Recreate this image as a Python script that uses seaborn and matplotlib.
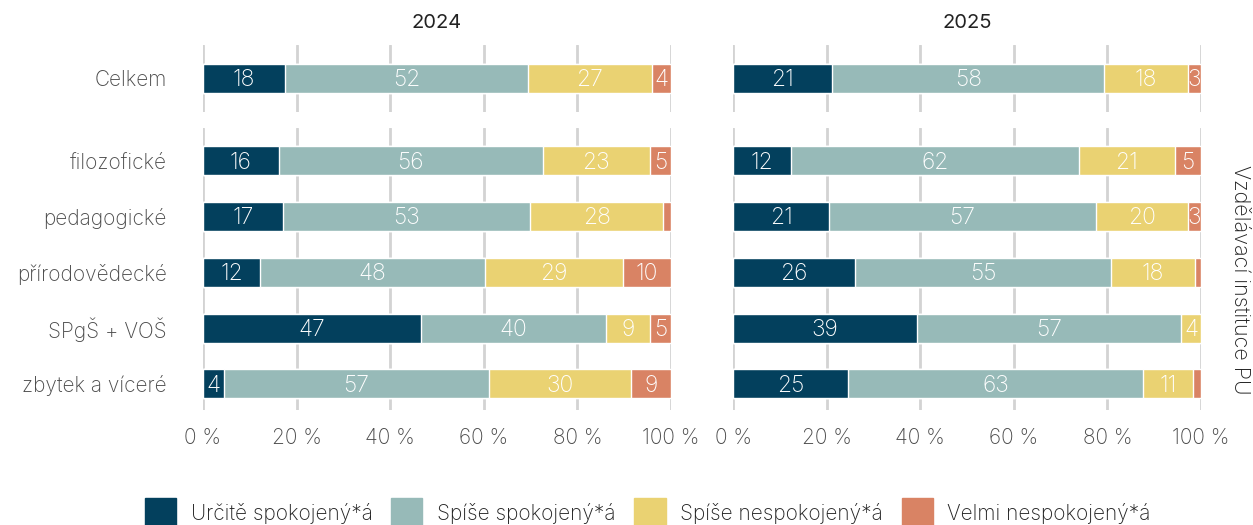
import numpy as np
import pandas as pd
import matplotlib.pyplot as plt
import seaborn as sns

# ── Data ────────────────────────────────────────────────────────────────────
years = ["2024", "2025"]
categories = ["Určitě spokojený*á", "Spíše spokojený*á",
              "Spíše nespokojený*á", "Velmi nespokojený*á"]
total_label = ["Celkem"]
groups = ["filozofické", "pedagogické", "přírodovědecké", "SPgŠ + VOŠ", "zbytek a víceré"]

# shares per category (%), order: total, then groups
urcite_2024 = [17.5, 16.2, 17.1, 12.2, 46.6, 4.5]
spise_sp_2024 = [51.9, 56.4, 52.8, 48.1, 39.5, 56.6]
spise_ne_2024 = [26.5, 22.9, 28.4, 29.4, 9.4, 30.4]
velmi_ne_2024 = [4.1, 4.5, 1.7, 10.3, 4.5, 8.5]

urcite_2025 = [21.2, 12.4, 20.5, 26.1, 39.3, 24.6]
spise_sp_2025 = [58.1, 61.5, 57.1, 54.6, 56.4, 63.0]
spise_ne_2025 = [17.9, 20.5, 19.6, 18.0, 4.3, 10.7]
velmi_ne_2025 = [2.8, 5.6, 2.8, 1.3, 0.0, 1.7]

# labels as printed in the chart (rounded, empty = not shown)
labels_2024 = [["18", "16", "17", "12", "47", "4"],
               ["52", "56", "53", "48", "40", "57"],
               ["27", "23", "28", "29", "9", "30"],
               ["4", "5", "", "10", "5", "9"]]
labels_2025 = [["21", "12", "21", "26", "39", "25"],
               ["58", "62", "57", "55", "57", "63"],
               ["18", "21", "20", "18", "4", "11"],
               ["3", "5", "3", "", "", ""]]

colors = ["#03405d", "#97bab8", "#ead272", "#d98364"]
x_ticks = [0, 20, 40, 60, 80, 100]

data = {
    "2024": [urcite_2024, spise_sp_2024, spise_ne_2024, velmi_ne_2024],
    "2025": [urcite_2025, spise_sp_2025, spise_ne_2025, velmi_ne_2025],
}
labels = {"2024": labels_2024, "2025": labels_2025}

# ── Style ───────────────────────────────────────────────────────────────────
sns.set_theme(style="white")
plt.rcParams["font.family"] = ["Inter", "DejaVu Sans"]
TEXT = "#4a4a4a"

fig = plt.figure(figsize=(12.53, 5.25), dpi=100)
col_left = [0.162, 0.585]
col_w = 0.3735
top_panel = (0.787, 0.914)
bot_panel = (0.219, 0.756)


def draw(ax, rows, vals, labs, ylim):
    df = pd.DataFrame(np.array(vals).T, columns=categories)
    df["row"] = rows
    cum = df[categories].cumsum(axis=1)
    # seaborn stacked bars: draw cumulative totals from widest to narrowest
    for i in reversed(range(len(categories))):
        sns.barplot(x=cum[categories[i]], y=df["row"], order=rows, orient="h",
                    color=colors[i], width=0.52, saturation=1, ax=ax, zorder=3)
    for r in range(len(rows)):
        for i, c in enumerate(categories):
            if labs[i][r]:
                ax.text(cum.loc[r, c] - df.loc[r, c] / 2, r + 0.03, labs[i][r],
                        ha="center", va="center", color="white", fontsize=16.5,
                        fontweight="light", zorder=4, clip_on=True)
    ax.set_xlim(0, 100)
    ax.set_ylim(*ylim)
    ax.set_xlabel("")
    ax.set_ylabel("")
    ax.set_xticks(x_ticks)
    for xt in x_ticks:
        ax.axvline(xt, color="#d3d3d3", lw=2, zorder=1)
    for s in ax.spines.values():
        s.set_visible(False)
    ax.tick_params(axis="both", length=0)
    ax.tick_params(axis="y", labelsize=15, labelcolor=TEXT, pad=26)


for k, yr in enumerate(years):
    vals = data[yr]
    labs = labels[yr]
    ax_t = fig.add_axes([col_left[k], top_panel[0], col_w, top_panel[1] - top_panel[0]])
    ax_b = fig.add_axes([col_left[k], bot_panel[0], col_w, bot_panel[1] - bot_panel[0]])
    draw(ax_t, total_label, [v[:1] for v in vals], [l[:1] for l in labs], (0.6, -0.6))
    draw(ax_b, groups, [v[1:] for v in vals], [l[1:] for l in labs], (4.47, -0.59))
    ax_t.set_xticklabels([])
    ax_b.set_xticklabels([f"{t} %" for t in x_ticks], fontsize=15, color=TEXT,
                         fontweight="light")
    ax_b.tick_params(axis="x", pad=13)
    ax_t.set_title(yr, fontsize=14.5, color="#222222", pad=12)
    if k == 1:
        ax_t.set_yticklabels([])
        ax_b.set_yticklabels([])
    else:
        for t in ax_t.get_yticklabels() + ax_b.get_yticklabels():
            t.set_fontweight("light")

fig.text(0.99, 0.467, "Vzdělávací instituce PU", rotation=-90, ha="center",
         va="center", fontsize=15.5, color="#222222", fontweight="light")

handles = [plt.Rectangle((0, 0), 1, 1, color=c) for c in colors]
fig.legend(handles, categories, loc="lower center", ncol=4,
           bbox_to_anchor=(0.517, -0.04), frameon=False,
           handlelength=1.5, handleheight=1.75, columnspacing=0.9,
           handletextpad=0.7, labelcolor="#222222",
           prop={"weight": "light", "size": 15})

fig.savefig("out.png", dpi=100)
